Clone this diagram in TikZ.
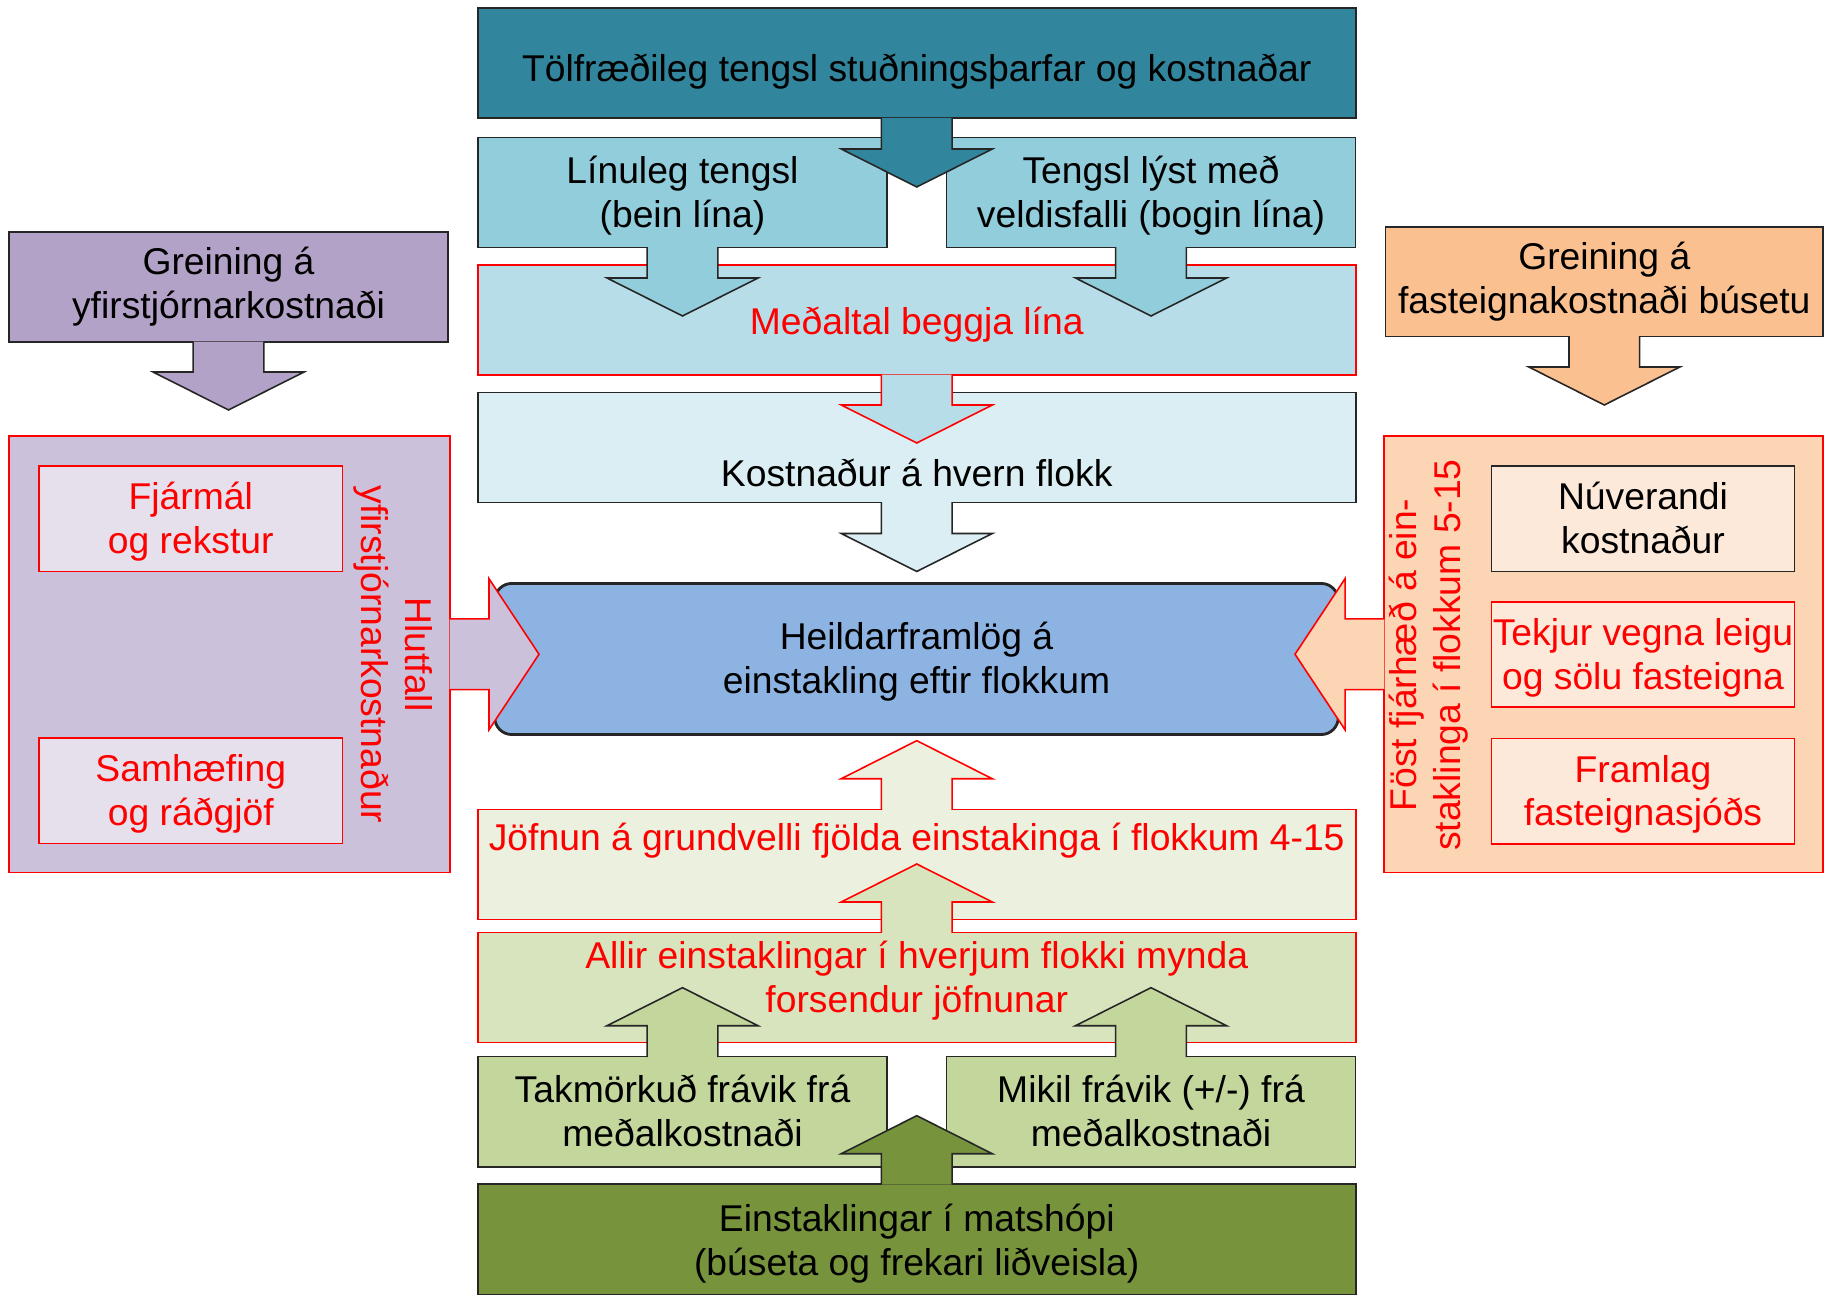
\documentclass[tikz,border=0pt]{standalone}
\usepackage{fontspec}
\setmainfont{Liberation Sans}
\usetikzlibrary{calc}

\definecolor{tealdark}{HTML}{31859C}
\definecolor{aqua}{HTML}{92CDDC}
\definecolor{aqualight}{HTML}{B7DEE8}
\definecolor{aquapale}{HTML}{DAEEF3}
\definecolor{bluetotal}{HTML}{8DB3E2}
\definecolor{lilacdark}{HTML}{B3A2C7}
\definecolor{lilac}{HTML}{CCC1DA}
\definecolor{lilacpale}{HTML}{E5E0EC}
\definecolor{apricot}{HTML}{FAC090}
\definecolor{apricotlight}{HTML}{FCD5B5}
\definecolor{apricotpale}{HTML}{FDE9D9}
\definecolor{greenpale}{HTML}{EBF1DE}
\definecolor{greenlight}{HTML}{D7E4BD}
\definecolor{greenmid}{HTML}{C3D69B}
\definecolor{olive}{HTML}{77933C}
\definecolor{redline}{HTML}{FF0000}
\colorlet{edge}{black!85}

\tikzset{
  txt/.style={align=center, inner sep=0pt, font=\fontsize{10.6}{12.5}\selectfont},
  twolines/.style={txt, text height=22.09pt, text depth=2.25pt},
  oneline/.style={txt, text height=10.6pt, text depth=2.25pt},
  box/.style={twolines, draw=edge, line width=0.45pt},
  redbox/.style={box, draw=redline},
  sidebox/.style={txt, draw=edge, line width=0.45pt},
  wide/.style={minimum width=8.775cm, minimum height=1.10cm},
  half/.style={minimum width=4.09cm, minimum height=1.10cm},
  small/.style={minimum width=3.03cm, minimum height=1.055cm},
}

% block arrow: [head length]{fill}{line}{start}{tip}
\newcommand{\blockarrow}[5][0.38cm]{%
  \coordinate (ba-t) at (#5);
  \coordinate (ba-s) at ($(#4)!-0.012cm!(ba-t)$);
  \coordinate (ba-b) at ($(ba-t)!#1!(ba-s)$);
  \path[fill=#2] ($(ba-s)!0.353cm!90:(ba-t)$) -- ($(ba-b)!0.353cm!90:(ba-t)$)
    -- ($(ba-b)!0.755cm!90:(ba-t)$) -- (ba-t) -- ($(ba-b)!0.755cm!-90:(ba-t)$)
    -- ($(ba-b)!0.353cm!-90:(ba-t)$) -- ($(ba-s)!0.353cm!-90:(ba-t)$) -- cycle;
  \draw[#3, line width=0.45pt] ($(ba-s)!0.353cm!90:(ba-t)$) -- ($(ba-b)!0.353cm!90:(ba-t)$)
    -- ($(ba-b)!0.755cm!90:(ba-t)$) -- (ba-t) -- ($(ba-b)!0.755cm!-90:(ba-t)$)
    -- ($(ba-b)!0.353cm!-90:(ba-t)$) -- ($(ba-s)!0.353cm!-90:(ba-t)$);
}

\begin{document}
\begin{tikzpicture}[x=0.01cm, y=-0.01cm]
\useasboundingbox (0,0) rectangle (1824,1295);

%Left Side Overhead
\node[sidebox, fill=lilacdark, minimum width=4.39cm, minimum height=1.10cm] (admin) at (228.5,287) {Greining á\\yfirstjórnarkostnaði};
\node[redbox, fill=lilac, minimum width=4.41cm, minimum height=4.365cm] (adminbox) at (229.5,654.25) {};
\node[redbox, small, fill=lilacpale, text=redline] (finance) at (190.8,518.7) {Fjármál\\og rekstur};
\node[redbox, small, fill=lilacpale, text=redline] (advice) at (190.8,790.7) {Samhæfing\\og ráðgjöf};
\node[txt, text=redline, rotate=-90] (share) at (393,654.5) {Hlutfall\\yfirstjórnarkostnaður};

%Right Side Housing
\node[sidebox, fill=apricot, minimum width=4.373cm, minimum height=1.096cm] (housing) at (1604.3,281.8) {Greining á\\fasteignakostnaði búsetu};
\node[redbox, fill=apricotlight, minimum width=4.39cm, minimum height=4.365cm] (housingbox) at (1603.5,654.25) {};
\node[box, small, fill=apricotpale] (current) at (1643,518.8) {Núverandi\\kostnaður};
\node[redbox, small, fill=apricotpale, text=redline] (income) at (1643,654.5) {Tekjur vegna leigu\\og sölu fasteigna};
\node[redbox, small, fill=apricotpale, text=redline] (fund) at (1643,791.1) {Framlag\\fasteignasjóðs};
\node[txt, text=redline, rotate=90] (fixed) at (1429,655) {Föst fjárhæð á ein-\\staklinga í flokkum 5-15};

%Centre Column Top
\node[box, wide, fill=tealdark, text height=12.5pt] (stat) at (916.75,63.25) {Tölfræðileg tengsl stuðningsþarfar og kostnaðar};
\node[box, half, fill=aqua] (linear) at (682.5,192.5) {Línuleg tengsl\\(bein lína)};
\node[box, half, fill=aqua] (power) at (1151,192.5) {Tengsl lýst með\\veldisfalli (bogin lína)};
\node[redbox, wide, oneline, fill=aqualight, text=redline] (mean) at (916.75,320) {Meðaltal beggja lína};
\node[box, wide, fill=aquapale] (cost) at (916.75,447.6) {};
\node[oneline] (cost-text) at (916.75,472) {Kostnaður á hvern flokk};

%Centre Total
\node[box, fill=bluetotal, line width=0.8pt, rounded corners=0.17cm, minimum width=8.43cm, minimum height=1.51cm] (total) at (916.5,659) {Heildarframlög á\\einstakling eftir flokkum};

%Centre Column Bottom
\node[redbox, wide, fill=greenpale] (equal) at (916.75,864.4) {};
\node[oneline, text=redline] (equal-text) at (916.75,835.5) {Jöfnun á grundvelli fjölda einstakinga í flokkum 4-15};
\node[redbox, wide, fill=greenlight] (all) at (916.75,987.4) {};
\node[twolines, text=redline] (all-text) at (916.75,978) {Allir einstaklingar í hverjum flokki mynda\\forsendur jöfnunar};
\node[box, half, fill=greenmid] (limited) at (682.5,1111.7) {Takmörkuð frávik frá\\meðalkostnaði};
\node[box, half, fill=greenmid] (great) at (1151,1111.7) {Mikil frávik (+/-) frá\\meðalkostnaði};
\node[box, wide, fill=olive, text height=23pt] (group) at (916.75,1239.3) {Einstaklingar í matshópi\\(búseta og frekari liðveisla)};

%Arrow Tips
\coordinate (stat-tip) at (916.75,187);
\coordinate (linear-tip) at (682.5,316);
\coordinate (power-tip) at (1151,316);
\coordinate (mean-tip) at (916.75,443);
\coordinate (cost-tip) at (916.75,571.5);
\coordinate (admin-tip) at (228.5,410);
\coordinate (housing-tip) at (1604.3,405);
\coordinate (left-tip) at (539,654.25);
\coordinate (right-tip) at (1295,654.25);
\coordinate (equal-tip) at (916.75,740.7);
\coordinate (all-tip) at (916.75,864);
\coordinate (limited-tip) at (682.5,987.7);
\coordinate (great-tip) at (1151,987.7);
\coordinate (group-tip) at (916.75,1115.7);

%Block Arrows
\blockarrow{tealdark}{edge}{stat.south}{stat-tip}
\blockarrow{aqua}{edge}{linear.south}{linear-tip}
\blockarrow{aqua}{edge}{power.south}{power-tip}
\blockarrow{aqualight}{redline}{mean.south}{mean-tip}
\blockarrow{aquapale}{edge}{cost.south}{cost-tip}
\blockarrow{lilacdark}{edge}{admin.south}{admin-tip}
\blockarrow{apricot}{edge}{housing.south}{housing-tip}
\blockarrow[0.5cm]{lilac}{redline}{adminbox.east}{left-tip}
\blockarrow[0.5cm]{apricotlight}{redline}{housingbox.west}{right-tip}
\blockarrow{greenpale}{redline}{equal.north}{equal-tip}
\blockarrow{greenlight}{redline}{all.north}{all-tip}
\blockarrow{greenmid}{edge}{limited.north}{limited-tip}
\blockarrow{greenmid}{edge}{great.north}{great-tip}
\blockarrow{olive}{edge}{group.north}{group-tip}

\end{tikzpicture}
\end{document}
